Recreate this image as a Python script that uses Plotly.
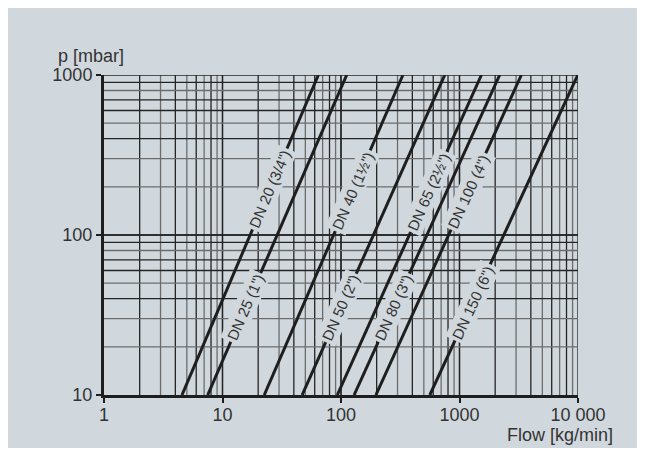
import math
import plotly.graph_objects as go

# ---- data ----
pipe_labels = ['DN 20 (3/4")', 'DN 25 (1")', 'DN 40 (1½")', 'DN 50 (2")',
               'DN 65 (2½")', 'DN 80 (3")', 'DN 100 (4")', 'DN 150 (6")']
flow_at_10mbar = [4.55, 7.5, 22.5, 47, 93, 129, 197, 562]
flow_at_1000mbar = [64.4, 111.7, 333, 751, 1531, 2183, 3327, 9950]
pressure_ends = [10, 1000]
label_pressure = [195, 35, 190, 35, 187, 35, 187, 38]

x_tickvals = [1, 10, 100, 1000, 10000]
x_ticktext = ["1", "10", "100", "1000", "10 000"]
y_tickvals = [10, 100, 1000]
y_ticktext = ["10", "100", "1000"]

# ---- layout geometry ----
W, H = 629, 440
ML, MR, MT, MB = 96, 59, 67, 53
PW, PH = W - ML - MR, H - MT - MB
X_RANGE = [0, 4]
Y_RANGE = [1, 3]
px_dec_x = PW / (X_RANGE[1] - X_RANGE[0])
px_dec_y = PH / (Y_RANGE[1] - Y_RANGE[0])

BG = "#d0d8dd"
DARK = "#242424"
GRAY = "#6c6c6c"
LINE = "#1e1e1e"
FONT = "Liberation Sans, Arial, sans-serif"

fig = go.Figure()

# grid shapes
shapes = []
x_dark = {2, 4, 6, 8}
y_dark = {4, 6, 7, 9}
for dec in range(X_RANGE[0], X_RANGE[1]):
    for m in range(1, 11):
        v = m * 10 ** dec
        if m == 1 and dec == 0:
            continue
        col = DARK if (m in x_dark or m in (1, 10)) else GRAY
        shapes.append(dict(type="line", xref="x", yref="y", x0=v, x1=v,
                           y0=10 ** Y_RANGE[0], y1=10 ** Y_RANGE[1],
                           line=dict(color=col, width=1.3), layer="below"))
for dec in range(Y_RANGE[0], Y_RANGE[1]):
    for m in range(1, 11):
        v = m * 10 ** dec
        if m == 1 and dec == Y_RANGE[0]:
            continue
        col = DARK if (m in y_dark or m in (1, 10)) else GRAY
        shapes.append(dict(type="line", xref="x", yref="y", y0=v, y1=v,
                           x0=10 ** X_RANGE[0], x1=10 ** X_RANGE[1],
                           line=dict(color=col, width=1.3), layer="below"))

annotations = []
for name, f0, f1, lp in zip(pipe_labels, flow_at_10mbar, flow_at_1000mbar, label_pressure):
    fig.add_trace(go.Scatter(x=[f0, f1], y=pressure_ends, mode="lines",
                             line=dict(color=LINE, width=3), name=name,
                             showlegend=False, hoverinfo="skip"))
    l0, l1 = math.log10(f0), math.log10(f1)
    p0, p1 = math.log10(pressure_ends[0]), math.log10(pressure_ends[1])
    t = (math.log10(lp) - p0) / (p1 - p0)
    lx = 10 ** (l0 + t * (l1 - l0))
    ang = math.degrees(math.atan2((p1 - p0) * px_dec_y, (l1 - l0) * px_dec_x))
    annotations.append(dict(x=math.log10(lx), y=math.log10(lp), xref="x", yref="y",
                            text=name, showarrow=False, textangle=-ang,
                            font=dict(family=FONT, size=15, color="#333333"),
                            bgcolor=BG, borderpad=2))

annotations.append(dict(x=0, y=1, xref="paper", yref="paper", xanchor="left",
                        yanchor="bottom", xshift=-48, yshift=7, text="p [mbar]",
                        showarrow=False,
                        font=dict(family=FONT, size=18, color="#333333")))
annotations.append(dict(x=1, y=0, xref="paper", yref="paper", xanchor="right",
                        yanchor="top", xshift=37, yshift=-28, text="Flow [kg/min]",
                        showarrow=False,
                        font=dict(family=FONT, size=18, color="#333333")))

axis_font = dict(family=FONT, size=18, color="#333333")
fig.update_layout(
    width=W, height=H,
    margin=dict(l=ML, r=MR, t=MT, b=MB),
    paper_bgcolor=BG, plot_bgcolor=BG,
    shapes=shapes, annotations=annotations,
    xaxis=dict(type="log", range=X_RANGE, showgrid=False, zeroline=False,
               tickvals=x_tickvals, ticktext=x_ticktext, ticks="outside",
               ticklen=5, tickwidth=1.5, tickcolor=LINE, showline=True,
               linewidth=3, linecolor=LINE, tickfont=axis_font,
               ticklabelstandoff=-4),
    yaxis=dict(type="log", range=Y_RANGE, showgrid=False, zeroline=False,
               tickvals=y_tickvals, ticktext=y_ticktext, ticks="outside",
               ticklen=5, tickwidth=1.5, tickcolor=LINE, showline=True,
               linewidth=3, linecolor=LINE, tickfont=axis_font),
)

fig.write_html("out.html")
